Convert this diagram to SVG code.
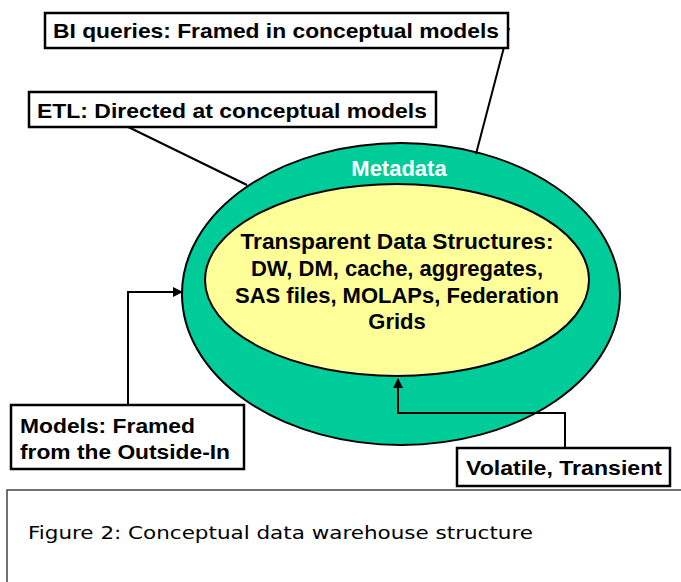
<svg xmlns="http://www.w3.org/2000/svg" width="681" height="582" viewBox="0 0 681 582">
<style>
.box{fill:#fff;stroke:#000;stroke-width:2.5}
.lbl{font-family:"Liberation Sans",Arial,sans-serif;font-weight:bold;font-size:21px;fill:#000}
.in{font-family:"Liberation Sans",Arial,sans-serif;font-weight:bold;font-size:22px;fill:#000;text-anchor:middle}
.conn{fill:none;stroke:#000;stroke-width:2}
</style>
<defs>
<marker id="ah" markerWidth="10" markerHeight="10" refX="9" refY="5" orient="auto" markerUnits="userSpaceOnUse">
<path d="M0,0 L10,5 L0,10 Z" fill="#000"/>
</marker>
</defs>
<rect width="681" height="582" fill="#fff"/>
<g id="metadata">
<ellipse cx="401" cy="294" rx="219" ry="151" fill="#00CC99" stroke="#000" stroke-width="2"/>
<text x="399" y="176" font-family="'Liberation Sans',Arial,sans-serif" font-weight="bold" font-size="22" fill="#fff" text-anchor="middle">Metadata</text>
</g>
<g id="structures">
<ellipse cx="397" cy="280" rx="192" ry="96" fill="#FFFF99" stroke="#000" stroke-width="2"/>
<text class="in" x="397" y="249" textLength="313" lengthAdjust="spacingAndGlyphs">Transparent Data Structures:</text>
<text class="in" x="397" y="276">DW, DM, cache, aggregates,</text>
<text class="in" x="397" y="303">SAS files, MOLAPs, Federation</text>
<text class="in" x="397" y="329">Grids</text>
</g>
<g id="connectors">
<line class="conn" x1="509" y1="28" x2="476" y2="154"/>
<line class="conn" x1="116" y1="121" x2="247" y2="185"/>
<polyline class="conn" points="128,405 128,292 182,292" marker-end="url(#ah)"/>
<polyline class="conn" points="565,448 565,413 398,413 398,379" marker-end="url(#ah)"/>
</g>
<g id="bi">
<rect class="box" x="45" y="13" width="463" height="35"/>
<text class="lbl" x="53" y="38" textLength="446" lengthAdjust="spacingAndGlyphs">BI queries: Framed in conceptual models</text>
</g>
<g id="etl">
<rect class="box" x="29" y="92" width="407" height="35"/>
<text class="lbl" x="37" y="118" textLength="390" lengthAdjust="spacingAndGlyphs">ETL: Directed at conceptual models</text>
</g>
<g id="models">
<rect class="box" x="11" y="405" width="233" height="64"/>
<text class="lbl" x="20" y="433" textLength="175" lengthAdjust="spacingAndGlyphs">Models: Framed</text>
<text class="lbl" x="20" y="459" textLength="210" lengthAdjust="spacingAndGlyphs">from the Outside-In</text>
</g>
<g id="volatile">
<rect class="box" x="457" y="448" width="213" height="38"/>
<text class="lbl" x="466" y="475" textLength="196" lengthAdjust="spacingAndGlyphs">Volatile, Transient</text>
</g>
<g id="caption">
<rect x="7" y="490" width="690" height="100" fill="#fff" stroke="#444" stroke-width="1.5"/>
<text x="28" y="539" font-family="'DejaVu Sans',Verdana,sans-serif" font-size="18" fill="#000" textLength="505" lengthAdjust="spacingAndGlyphs">Figure 2: Conceptual data warehouse structure</text>
</g>
</svg>
